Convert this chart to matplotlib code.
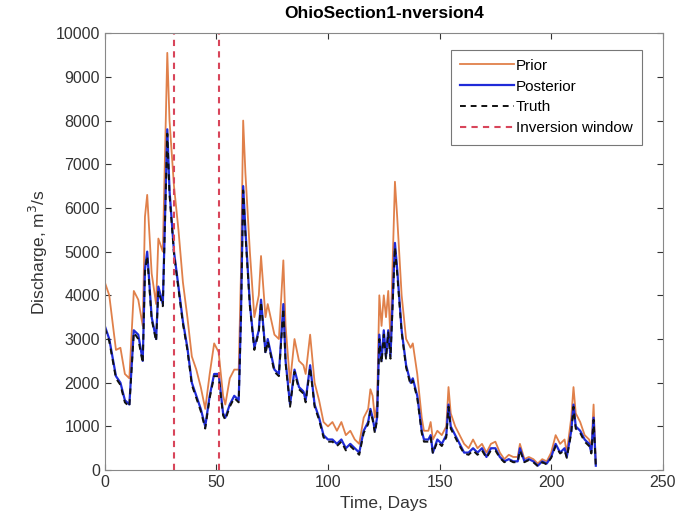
import matplotlib
matplotlib.use('Agg')
import matplotlib.pyplot as plt

plt.rcParams['font.family'] = ['Liberation Sans', 'DejaVu Sans']

# days where the curves change direction
days = [0, 2, 5, 7, 9, 11, 13, 15, 17, 18, 19, 21, 23, 24, 26, 28, 29, 31, 33, 35,
        37, 39, 41, 43, 45, 47, 49, 51, 53, 54, 56, 58, 60, 61, 62, 63, 65, 67, 69, 70,
        72, 73, 76, 78, 80, 81, 83, 85, 87, 89, 90, 92, 94, 96, 98, 100, 102, 104, 106, 108,
        110, 112, 114, 116, 118, 119, 120, 121, 122, 123, 124, 125, 126, 127, 128, 130, 131, 133, 135, 137,
        138, 140, 142, 143, 145, 146, 147, 149, 151, 153, 154, 155, 157, 159, 161, 163, 165, 167, 169, 171,
        173, 175, 177, 179, 181, 183, 185, 186, 188, 190, 192, 194, 196, 198, 200, 202, 204, 206, 207, 209,
        210, 211, 213, 215, 217, 218, 219, 220]

prior = [4300, 4000, 2750, 2800, 2200, 2100, 4100, 3900, 3300, 5800, 6300, 4500, 3800, 5300, 5000, 9550, 8000, 6500, 5500, 4300,
         3500, 2600, 2300, 1900, 1400, 2200, 2900, 2700, 1700, 1500, 2100, 2300, 2300, 4500, 8000, 6800, 5000, 3500, 4000, 4900,
         3500, 3800, 3100, 3000, 4800, 3300, 2000, 3000, 2500, 2400, 2200, 3100, 2000, 1600, 1100, 1000, 1100, 900, 1100, 800,
         900, 700, 600, 1200, 1400, 1850, 1700, 1200, 1500, 4000, 3300, 4000, 3500, 4100, 3000, 6600, 5800, 4000, 3000, 2800,
         2900, 2200, 1200, 900, 900, 1100, 700, 900, 800, 1000, 1900, 1300, 1000, 800, 600, 500, 700, 500, 600, 400,
         600, 650, 400, 250, 350, 300, 300, 600, 250, 300, 250, 150, 250, 200, 400, 800, 600, 700, 400, 1200,
         1900, 1300, 1100, 800, 700, 500, 1500, 150]

posterior = [3300, 3000, 2150, 2000, 1600, 1500, 3200, 3100, 2500, 4600, 5000, 3500, 3000, 4200, 3800, 7800, 6400, 5000, 4200, 3400,
             2800, 2000, 1700, 1400, 1000, 1700, 2200, 2200, 1300, 1200, 1500, 1700, 1600, 3500, 6500, 5500, 3800, 2800, 3200, 3900,
             2700, 3000, 2300, 2200, 3800, 2500, 1500, 2300, 1900, 1800, 1600, 2400, 1500, 1200, 800, 700, 700, 600, 700, 500,
             600, 500, 400, 900, 1100, 1400, 1200, 900, 1200, 3100, 2500, 3200, 2600, 3200, 2600, 5200, 4600, 3200, 2400, 2000,
             2100, 1700, 900, 700, 700, 800, 400, 700, 600, 800, 1500, 1000, 800, 600, 400, 400, 500, 400, 500, 300,
             500, 500, 300, 200, 250, 200, 200, 500, 200, 250, 200, 100, 200, 150, 300, 600, 400, 500, 300, 900,
             1500, 1000, 900, 700, 600, 400, 1200, 100]

truth = [3250, 2950, 2100, 1950, 1550, 1450, 3150, 3000, 2450, 4550, 4900, 3450, 2950, 4100, 3750, 7700, 6300, 4950, 4150, 3350,
         2750, 1950, 1650, 1350, 950, 1650, 2150, 2150, 1250, 1150, 1450, 1650, 1550, 3450, 6400, 5400, 3750, 2750, 3150, 3850,
         2650, 2950, 2250, 2150, 3700, 2450, 1450, 2250, 1850, 1750, 1550, 2350, 1450, 1150, 750, 650, 650, 550, 650, 450,
         550, 450, 350, 850, 1050, 1350, 1150, 850, 1150, 3000, 2450, 3100, 2550, 3150, 2550, 5100, 4500, 3150, 2350, 1950,
         2050, 1650, 850, 650, 650, 750, 380, 650, 550, 750, 1450, 950, 750, 550, 380, 350, 450, 350, 450, 280,
         450, 450, 280, 180, 230, 180, 180, 450, 180, 230, 180, 90, 180, 130, 280, 550, 380, 450, 280, 850,
         1450, 950, 850, 650, 550, 380, 1150, 90]

window = [31, 51]

fig = plt.figure(figsize=(6.94, 5.27), dpi=100)
ax = fig.add_axes([0.151, 0.108, 0.804, 0.829])

ax.plot(days, prior, color='#E0804A', linewidth=1.3, label='Prior')
ax.plot(days, posterior, color='#1F2BD8', linewidth=1.6, label='Posterior')
ax.plot(days, truth, color='#111111', linewidth=1.4, linestyle=(0, (3, 2.5)), label='Truth')
for i, d in enumerate(window):
    ax.axvline(d, color='#D8455A', linewidth=1.5, linestyle=(0, (3, 2.5)),
               label='Inversion window' if i == 0 else None)

ax.set_xlim(0, 250)
ax.set_ylim(0, 10000)
ax.set_xticks([0, 50, 100, 150, 200, 250])
ax.set_yticks(range(0, 10001, 1000))
ax.tick_params(direction='in', top=True, right=True, labelsize=11.5, colors='#333333', length=4)
for s in ax.spines.values():
    s.set_color('#888888')

ax.set_xlabel('Time, Days', fontsize=12.5, color='#333333')
ax.set_ylabel('Discharge, m$^3$/s', fontsize=12.5, color='#333333')
ax.set_title('OhioSection1-nversion4', fontsize=12.5, fontweight='bold', pad=11)

leg = ax.legend(loc='upper right', bbox_to_anchor=(0.976, 0.98), fontsize=11, frameon=True,
                fancybox=False, edgecolor='#555555', handlelength=3.5, borderpad=0.6,
                labelspacing=0.45, handletextpad=0.15)
leg.get_frame().set_linewidth(0.8)

fig.savefig('out.png', dpi=100)
